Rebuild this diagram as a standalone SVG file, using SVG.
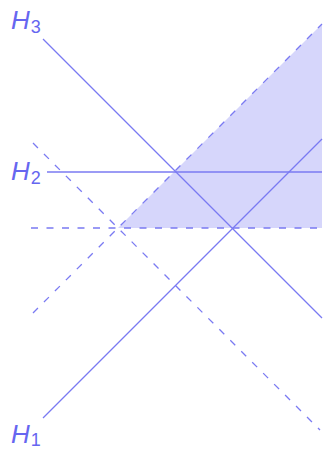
<svg xmlns="http://www.w3.org/2000/svg" width="326" height="449" viewBox="0 0 326 449">
<style>
.s{stroke:#7a7af2;stroke-width:1.3;fill:none}
.d{stroke:#7a7af2;stroke-width:1.3;fill:none;stroke-dasharray:7 8.5}
.lbl{font-family:"Liberation Sans",Arial,sans-serif;font-style:italic;font-size:26px;fill:#6666f0}
.sub{font-style:normal;font-size:18px}
</style>
<rect width="326" height="449" fill="#fff"/>
<g id="region">
<polygon points="118,228 322,24 322,228" fill="#d6d6fb"/>
</g>
<g id="connectors">
<line class="d" x1="31" y1="228" x2="322" y2="228"/>
<line class="d" x1="33" y1="143" x2="320" y2="430"/>
<line class="d" x1="33" y1="313" x2="322" y2="24"/>
</g>
<g id="H3">
<line class="s" x1="43" y1="39" x2="322" y2="318"/>
<text class="lbl" x="11" y="29">H<tspan class="sub" dy="4" dx="1">3</tspan></text>
</g>
<g id="H2">
<line class="s" x1="47" y1="172" x2="322" y2="172"/>
<text class="lbl" x="11" y="180">H<tspan class="sub" dy="4" dx="1">2</tspan></text>
</g>
<g id="H1">
<line class="s" x1="43" y1="418" x2="322" y2="139"/>
<text class="lbl" x="11" y="443">H<tspan class="sub" dy="3" dx="1">1</tspan></text>
</g>
</svg>
